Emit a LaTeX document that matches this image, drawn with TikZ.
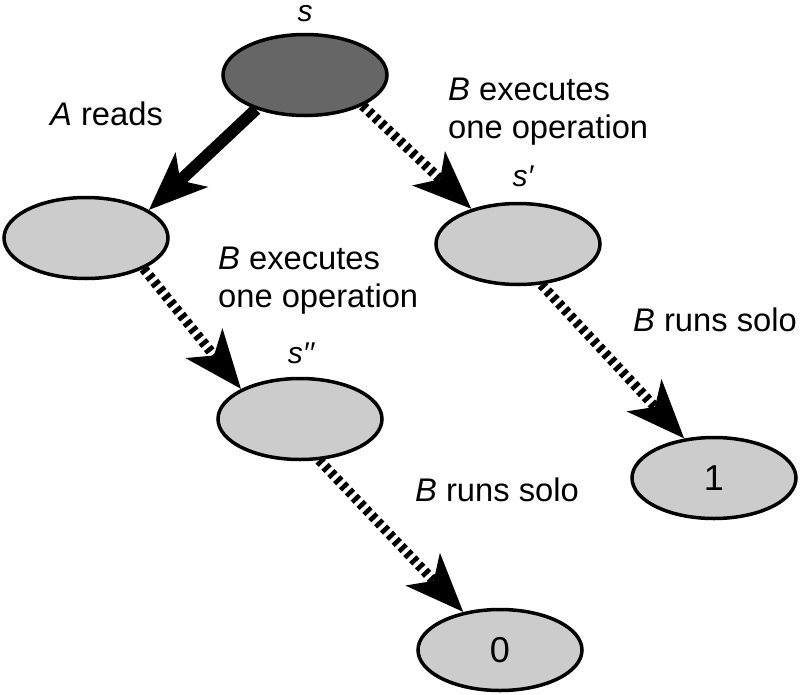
\documentclass[tikz,border=0pt]{standalone}
\usepackage{fontspec}
\setmainfont{Liberation Sans}
\usetikzlibrary{shapes.geometric,arrows.meta,backgrounds}
\definecolor{lightst}{HTML}{CCCCCC}
\definecolor{darkst}{HTML}{666666}
\begin{document}
\begin{tikzpicture}[x=1pt,y=-1pt,
  st/.style={ellipse,draw=black,line width=3.5pt,minimum width=164pt,minimum height=81pt,inner sep=0pt,fill=lightst,font=\fontsize{36}{40}\selectfont},
  lbl/.style={anchor=base west,inner sep=0pt,font=\fontsize{32.7}{38}\selectfont},
  slbl/.style={anchor=base,inner sep=0pt,text height=17pt,font=\fontsize{30}{34}\selectfont\itshape},
  tip/.style={-{Stealth[length=58pt,width=46pt,inset=15pt]}},
  solidarrow/.style={tip,line width=12pt},
  hatch/.style={tip,line width=10pt,dash pattern=on 4.5pt off 4pt}]
\useasboundingbox (0,0) rectangle (801,694);
\node[st,fill=darkst] (s) at (305,75) {};
\node[st] (L) at (86,238) {};
\node[st] (sp) at (518,244) {};
\node[st] (spp) at (300,419) {};
\node[st] (one) at (714,478) {1};
\node[st] (zero) at (500,650) {0};
\node[slbl] (ls) at (305,21) {s};
\node[slbl] (lsp) at (523,186) {s′};
\node[slbl] (lspp) at (301,363) {s′′};
\node[lbl] (t1) at (50,125) {\textit{A} reads};
\node[lbl] (t2a) at (448,100) {\textit{B} executes};
\node[lbl] (t2b) at (448,138) {one operation};
\node[lbl] (t3a) at (218,269) {\textit{B} executes};
\node[lbl] (t3b) at (218,307) {one operation};
\node[lbl] (t4) at (633,331) {\textit{B} runs solo};
\node[lbl] (t5) at (415,501) {\textit{B} runs solo};
\begin{scope}[on background layer]
\draw[solidarrow] (s.215) -- (L.24);
\draw[hatch] (s.-28) -- (sp.143);
\draw[hatch] (L.-28) -- (spp.153);
\draw[hatch] (sp.-60) -- (one.127);
\draw[hatch] (spp.-65) -- (zero.134);
\end{scope}
\end{tikzpicture}
\end{document}
